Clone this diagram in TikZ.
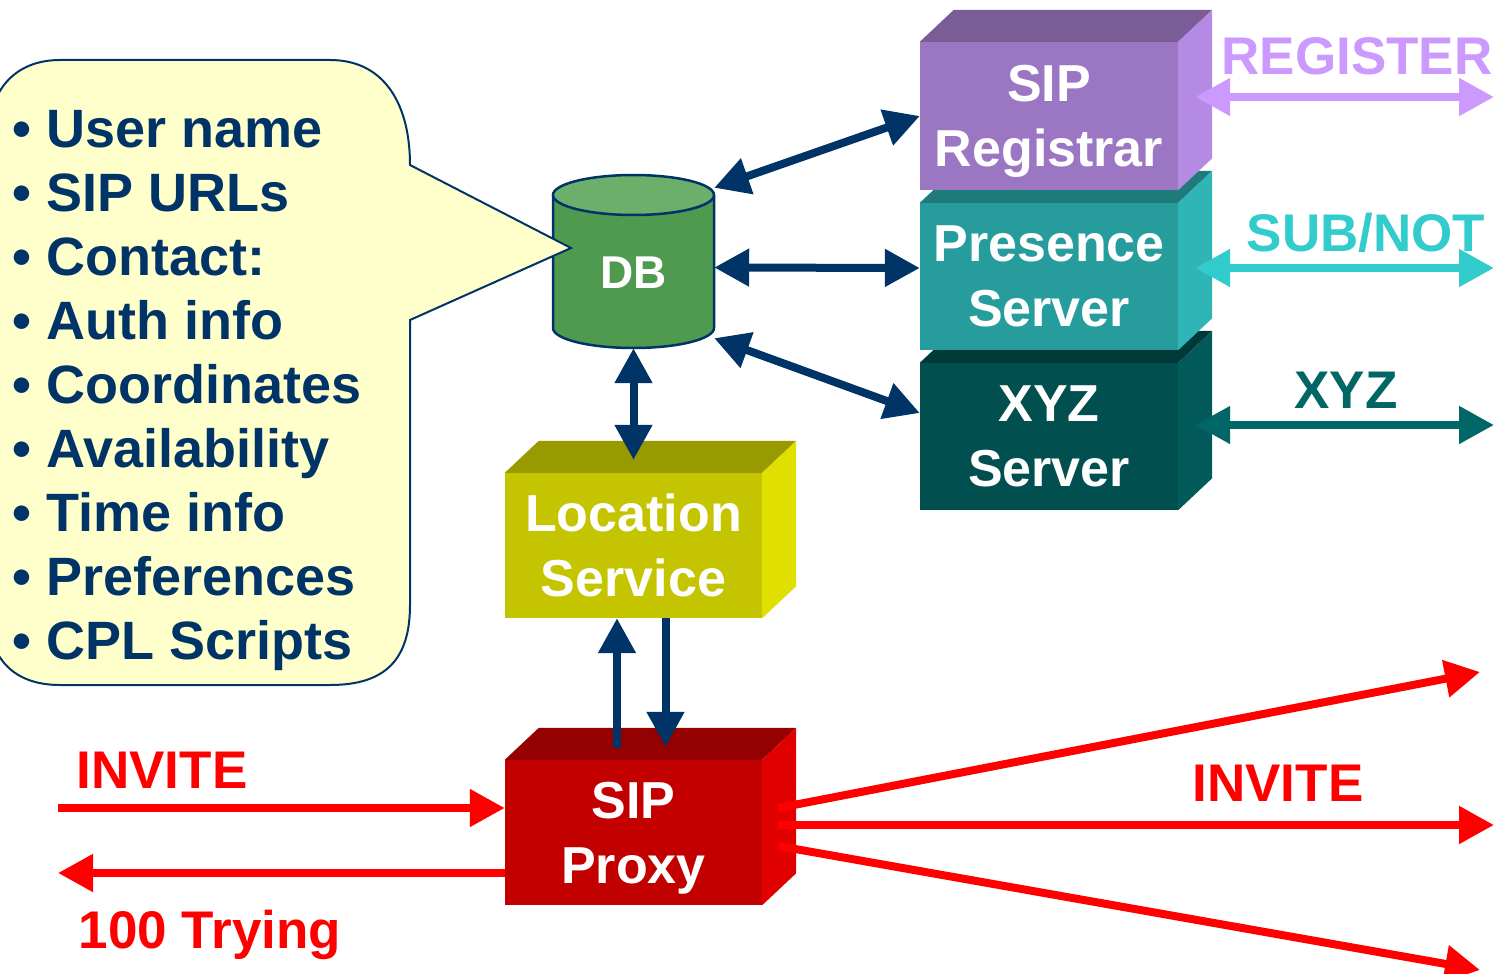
\documentclass[tikz,border=0pt]{standalone}
\usepackage{fontspec}
\setmainfont{Liberation Sans}
\usetikzlibrary{arrows.meta}
\definecolor{navy}{HTML}{003366}
\definecolor{callout}{HTML}{FFFFCC}
\definecolor{regF}{HTML}{9B77C3}\definecolor{regT}{HTML}{7A5C96}\definecolor{regS}{HTML}{B48AE4}
\definecolor{preF}{HTML}{279C9C}\definecolor{preT}{HTML}{1F7A7A}\definecolor{preS}{HTML}{2FB5B5}
\definecolor{xyzF}{HTML}{024F4F}\definecolor{xyzT}{HTML}{013838}\definecolor{xyzS}{HTML}{035A5A}
\definecolor{locF}{HTML}{C4C400}\definecolor{locT}{HTML}{999900}\definecolor{locS}{HTML}{DFDF00}
\definecolor{prxF}{HTML}{C30000}\definecolor{prxT}{HTML}{950000}\definecolor{prxS}{HTML}{E10000}
\definecolor{regC}{HTML}{CC99FF}
\definecolor{subC}{HTML}{33CCCC}
\definecolor{xyzC}{HTML}{006666}
\definecolor{dbBody}{HTML}{4F9A4F}
\definecolor{dbTop}{HTML}{6BAF6B}
\definecolor{sipred}{HTML}{FF0000}
\newcommand\cubefaces[3]{%
  \fill[#2] (#1.north west) -- ++(34,-32) -- ([xshift=34pt,yshift=32pt]#1.north east) -- (#1.north east) -- cycle;
  \fill[#3] (#1.north east) -- ++(34,-32) -- ([xshift=34pt,yshift=32pt]#1.south east) -- (#1.south east) -- cycle;
}
\tikzset{
  box/.style={minimum width=258pt, minimum height=147pt, inner sep=0pt, text=white,
    font=\fontsize{52}{65}\selectfont\bfseries, align=center},
  item/.style={inner sep=0pt, text=navy, font=\fontsize{54}{64}\selectfont\bfseries},
  lbl/.style={inner sep=0pt, font=\fontsize{53}{60}\selectfont\bfseries},
  >={Triangle[length=35pt,width=36pt]},
  nav/.style={draw=navy, line width=8pt},
  redarrow/.style={draw=sipred, line width=8pt, ->},
}
\begin{document}
\begin{tikzpicture}[x=1pt,y=-1pt]
\useasboundingbox (0,0) rectangle (1494,974);
\clip (0,0) rectangle (1494,974);

% DB cylinder
\fill[dbBody] (553,195) -- (553,328) arc[start angle=180, end angle=0, x radius=80.5, y radius=20] -- (714,195) -- cycle;
\draw[navy, line width=2.5pt] (553,195) -- (553,328) arc[start angle=180, end angle=0, x radius=80.5, y radius=20] -- (714,195);
\filldraw[fill=dbTop, draw=navy, line width=2.5pt] (633.5,195) ellipse [x radius=80.5, y radius=20];
\node[inner sep=0pt, minimum width=161pt, minimum height=173pt, text=white,
  text height=53pt, text depth=0pt,
  font=\fontsize{46}{50}\selectfont\bfseries] (db) at (633.5,261.5) {DB};

% callout
\filldraw[fill=callout, draw=navy, line width=2pt]
  (60,60) -- (330,60) .. controls (385,60) and (410,105) .. (410,165)
  -- (571,248) -- (410,320) -- (410,605)
  .. controls (410,660) and (385,685) .. (330,685) -- (60,685)
  .. controls (15,685) and (-12,660) .. (-12,610) -- (-12,140)
  .. controls (-12,90) and (15,60) .. (60,60) -- cycle;
\foreach \t [count=\i] in {User name, SIP URLs, Contact:, Auth info, Coordinates, Availability, Time info, Preferences, CPL Scripts}
  \node[item, anchor=base west] (item\i) at (12,{147+64*(\i-1)}) {•\ \t};

% boxes (lower first)
\node[box, fill=xyzF] (xyz) at (1049,436.5) {XYZ\\Server};
\cubefaces{xyz}{xyzT}{xyzS}
\node[box, fill=preF] (pres) at (1049,276.5) {Presence\\Server};
\cubefaces{pres}{preT}{preS}
\node[box, fill=regF, minimum height=148pt, text depth=0pt] (reg) at (1049,116) {SIP\\Registrar};
\cubefaces{reg}{regT}{regS}
\node[box, fill=locF, minimum width=257pt, minimum height=145pt] (loc) at (633.5,545.5) {Location\\Service};
\cubefaces{loc}{locT}{locS}
\node[box, fill=prxF, minimum width=257pt, minimum height=145pt, text depth=0pt] (proxy) at (633.5,832.5) {SIP\\Proxy};
\cubefaces{proxy}{prxT}{prxS}

% navy connectors
\draw[nav, <->] ([yshift=-13pt]db.north east) -- (reg.west);
\draw[nav, <->] ([yshift=-6pt]db.east) -- ([yshift=8.5pt]pres.west);
\draw[nav, <->] ([yshift=10pt]db.south east) -- ([yshift=23.5pt]xyz.west);
\draw[nav, <->] (db.south) -- ([yshift=13pt]loc.north);
\draw[nav, ->] ([xshift=-16.5pt,yshift=12pt]proxy.north) -- ([xshift=-16.5pt]loc.south);
\draw[nav, ->] ([xshift=32pt]loc.south) -- ([xshift=32pt,yshift=13pt]proxy.north);

% right side protocol arrows
\coordinate (regEnd) at (1494,97);
\coordinate (subEnd) at (1494,268);
\coordinate (xyzEnd) at (1494,425);
\draw[draw=regC, line width=8pt, <->] ([xshift=17pt,yshift=19pt]reg.east) -- (regEnd);
\draw[draw=subC, line width=8pt, <->] ([xshift=17pt,yshift=8.5pt]pres.east) -- (subEnd);
\draw[draw=xyzC, line width=8pt, <->] ([xshift=17pt,yshift=11.5pt]xyz.east) -- (xyzEnd);
\node[lbl, text=regC] (lreg) at (1357,56) {REGISTER};
\node[lbl, text=subC] (lsub) at (1366,233) {SUB/NOT};
\node[lbl, text=xyzC] (lxyz) at (1346,390) {XYZ};

% red SIP arrows
\coordinate (inStart) at (58,808);
\coordinate (tryEnd) at (58,873);
\coordinate (outA) at (1480,672);
\coordinate (outB) at (1494,825);
\coordinate (outC) at (1480,970);
\draw[redarrow] (inStart) -- ([yshift=24.5pt]proxy.west);
\draw[redarrow] ([yshift=-40.5pt]proxy.west) -- (tryEnd);
\draw[redarrow] ([xshift=16pt,yshift=24.5pt]proxy.east) -- (outA);
\draw[redarrow] ([xshift=16pt,yshift=7.5pt]proxy.east) -- (outB);
\draw[redarrow] ([xshift=16pt,yshift=-13.5pt]proxy.east) -- (outC);
\node[lbl, text=sipred] (linv) at (162,770) {INVITE};
\node[lbl, text=sipred] (ltry) at (210,935) {100 Trying};
\node[lbl, text=sipred] (linv2) at (1278,783) {INVITE};
\end{tikzpicture}
\end{document}
